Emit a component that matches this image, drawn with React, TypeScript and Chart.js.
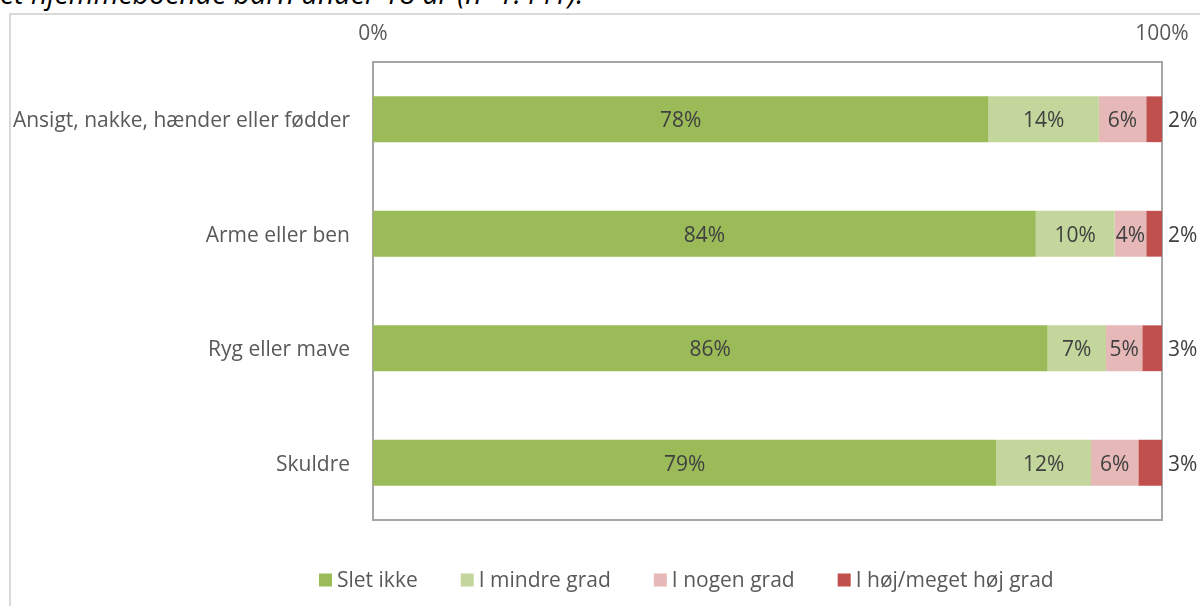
import React, { useEffect, useRef } from "react";
import { Chart, registerables } from "chart.js";

Chart.register(...registerables);

const categories = [
  "Ansigt, nakke, hænder eller fødder",
  "Arme eller ben",
  "Ryg eller mave",
  "Skuldre",
];
const seriesNames = ["Slet ikke", "I mindre grad", "I nogen grad", "I høj/meget høj grad"];
const sletIkke = [78, 84, 85.5, 79];
const iMindreGrad = [14, 10, 7.4, 12];
const iNogenGrad = [6, 4, 4.6, 6];
const iHoejGrad = [2, 2, 2.5, 3];
const xTicks = [0, 100];
const colors = ["#9BBB59", "#C3D69B", "#E6B9B8", "#C0504D"];
const titleText = "et hjemmeboende barn under 18 år (n=1.441).";

const FONT = "'Open Sans', sans-serif";

const borderPlugin = {
  id: "plotBorder",
  beforeDatasetsDraw(chart: any) {
    const { ctx, chartArea } = chart;
    ctx.save();
    ctx.strokeStyle = "#a6a6a6";
    ctx.lineWidth = 2;
    ctx.strokeRect(chartArea.left, chartArea.top, chartArea.right - chartArea.left, chartArea.bottom - chartArea.top);
    ctx.restore();
  },
};

const labelPlugin = {
  id: "valueLabels",
  afterDatasetsDraw(chart: any) {
    const { ctx } = chart;
    ctx.save();
    ctx.font = `21px ${FONT}`;
    ctx.fillStyle = "#404040";
    ctx.textBaseline = "middle";
    chart.data.datasets.forEach((ds: any, di: number) => {
      const meta = chart.getDatasetMeta(di);
      meta.data.forEach((el: any, i: number) => {
        const v = ds.data[i];
        const txt = Math.round(v) + "%";
        if (di === chart.data.datasets.length - 1) {
          ctx.textAlign = "left";
          ctx.fillText(txt, el.x + 6, el.y + 2);
        } else {
          ctx.textAlign = "center";
          ctx.fillText(txt, (el.x + el.base) / 2, el.y + 2);
        }
      });
    });
    ctx.restore();
  },
};

const legendPlugin = {
  id: "customLegend",
  afterDraw(chart: any) {
    const { ctx } = chart;
    ctx.save();
    ctx.font = `21px ${FONT}`;
    ctx.textBaseline = "middle";
    ctx.textAlign = "left";
    let x = 319;
    const y = 580;
    const box = 13;
    chart.data.datasets.forEach((ds: any) => {
      ctx.fillStyle = ds.backgroundColor;
      ctx.fillRect(x, y - box / 2, box, box);
      x += box + 5;
      ctx.fillStyle = "#595959";
      ctx.fillText(ds.label, x, y + 1);
      x += ctx.measureText(ds.label).width + 43;
    });
    ctx.restore();
  },
};

export default function App() {
  const ref = useRef<HTMLCanvasElement | null>(null);
  useEffect(() => {
    if (!ref.current) return;
    const seriesData = [sletIkke, iMindreGrad, iNogenGrad, iHoejGrad];
    const chart = new Chart(ref.current, {
      type: "bar",
      data: {
        labels: categories,
        datasets: seriesNames.map((name, i) => ({
          label: name,
          data: seriesData[i],
          backgroundColor: colors[i],
          borderWidth: 0,
          categoryPercentage: 0.8,
          barPercentage: 0.5,
        })),
      },
      options: {
        indexAxis: "y",
        animation: false,
        responsive: false,
        maintainAspectRatio: false,
        layout: { padding: { left: 0, top: 0, right: 38, bottom: 86 } },
        plugins: { legend: { display: false }, tooltip: { enabled: false } },
        scales: {
          x: {
            position: "top",
            stacked: true,
            min: 0,
            max: 100,
            afterBuildTicks: (s: any) => {
              s.ticks = xTicks.map((v) => ({ value: v }));
            },
            ticks: {
              callback: (v: any) => v + "%",
              font: { family: FONT, size: 21 },
              color: "#595959",
              padding: 15,
              maxRotation: 0,
            },
            grid: { display: false, drawTicks: false },
            border: { display: false },
            afterFit: (s: any) => {
              s.height = 62;
              s.paddingLeft = 0;
              s.paddingRight = 0;
            },
          },
          y: {
            stacked: true,
            ticks: {
              font: { family: FONT, size: 21 },
              color: "#595959",
              padding: 23,
              labelOffset: 2,
            },
            grid: { display: false, drawTicks: false },
            border: { display: false },
            afterFit: (s: any) => {
              s.width = 373;
              s.paddingTop = 0;
              s.paddingBottom = 0;
            },
          },
        },
      } as any,
      plugins: [borderPlugin, labelPlugin, legendPlugin],
    });
    return () => chart.destroy();
  }, []);

  return (
    <div style={{ position: "fixed", left: 0, top: 0, width: 1200, height: 606, overflow: "hidden", background: "#fff" }}>
      <div
        style={{
          position: "absolute",
          left: 0,
          top: -21,
          fontFamily: FONT,
          fontStyle: "italic",
          fontSize: 28.5,
          lineHeight: "28.5px",
          whiteSpace: "nowrap",
          color: "#000",
        }}
      >
        {titleText}
      </div>
      <div
        style={{
          position: "absolute",
          left: 9,
          top: 13,
          width: 1300,
          height: 700,
          borderLeft: "2px solid #d9d9d9",
          borderTop: "2px solid #d9d9d9",
        }}
      />
      <canvas ref={ref} width={1200} height={606} style={{ position: "absolute", left: 0, top: 0, width: 1200, height: 606 }} />
    </div>
  );
}
